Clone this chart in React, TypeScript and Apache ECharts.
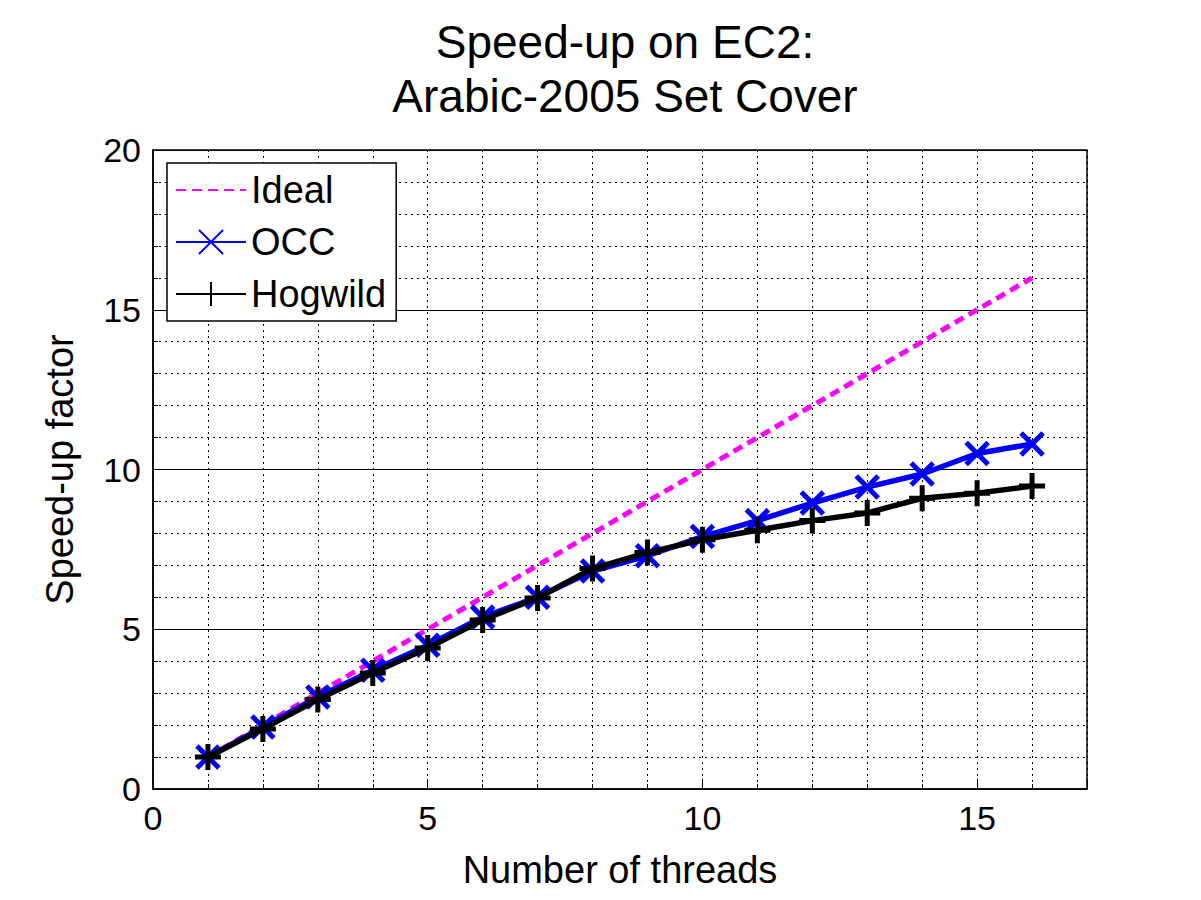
import { useEffect, useRef } from 'react';
import * as echarts from 'echarts';

const threads = [1, 2, 3, 4, 5, 6, 7, 8, 9, 10, 11, 12, 13, 14, 15, 16];
const ideal = [1, 2, 3, 4, 5, 6, 7, 8, 9, 10, 11, 12, 13, 14, 15, 16];
const occ = [1.0, 1.94, 2.88, 3.72, 4.5, 5.38, 6.0, 6.82, 7.3, 7.9, 8.4, 8.95, 9.45, 9.86, 10.5, 10.8];
const hogwild = [1.0, 1.88, 2.8, 3.63, 4.41, 5.29, 5.98, 6.9, 7.4, 7.8, 8.1, 8.4, 8.64, 9.1, 9.26, 9.48];

const FONT = 'Liberation Sans, Arial, sans-serif';
const X_SYM = 'path://M0,0L10,10M10,0L0,10';
const PLUS_SYM = 'path://M5,0L5,10M0,5L10,5';

const pairs = (ys: number[]) => threads.map((t, i) => [t, ys[i]]);

export default function App() {
  const ref = useRef<HTMLDivElement | null>(null);

  useEffect(() => {
    if (!ref.current) return;
    const chart = echarts.init(ref.current, undefined, { renderer: 'svg' });
    chart.setOption({
      animation: false,
      backgroundColor: '#fff',
      title: {
        text: 'Speed-up on EC2:\nArabic-2005 Set Cover',
        left: 620,
        textAlign: 'center',
        top: 10,
        textStyle: { fontFamily: FONT, fontSize: 46, fontWeight: 'normal', color: '#000', lineHeight: 54 },
      },
      grid: { left: 153, right: 114, top: 150, bottom: 111, show: true, borderColor: '#000', borderWidth: 1.5 },
      legend: {
        orient: 'vertical',
        left: 167,
        top: 163,
        padding: [8, 10, 8, 8],
        itemGap: 14,
        itemWidth: 70,
        itemHeight: 30,
        backgroundColor: '#fff',
        borderColor: '#000',
        borderWidth: 1.5,
        textStyle: { fontFamily: FONT, fontSize: 38, color: '#000' },
        data: [{ name: 'Ideal', itemStyle: { opacity: 0 } }, 'OCC', 'Hogwild'],
      },
      xAxis: {
        type: 'value',
        min: 0,
        max: 17,
        interval: 5,
        name: 'Number of threads',
        nameLocation: 'middle',
        nameGap: 62,
        nameTextStyle: { fontFamily: FONT, fontSize: 38, color: '#000' },
        axisLine: { lineStyle: { color: '#000', width: 1.5 } },
        axisTick: { inside: true, length: 10, lineStyle: { color: '#000' } },
        minorTick: { show: true, splitNumber: 5, length: 5, lineStyle: { color: '#000' } },
        axisLabel: { fontFamily: FONT, fontSize: 34, color: '#000', margin: 12, showMaxLabel: false },
        splitLine: { show: true, lineStyle: { color: '#000', type: [2, 4], width: 1 } },
        minorSplitLine: { show: true, lineStyle: { color: '#000', type: [2, 4], width: 1 } },
      },
      yAxis: {
        type: 'value',
        min: 0,
        max: 20,
        interval: 5,
        name: 'Speed-up factor',
        nameLocation: 'middle',
        nameGap: 74,
        nameTextStyle: { fontFamily: FONT, fontSize: 38, color: '#000' },
        axisLine: { lineStyle: { color: '#000', width: 1.5 } },
        axisTick: { inside: true, length: 10, lineStyle: { color: '#000' } },
        minorTick: { show: true, splitNumber: 5, length: 5, lineStyle: { color: '#000' } },
        axisLabel: { fontFamily: FONT, fontSize: 34, color: '#000', margin: 12 },
        splitLine: { show: true, lineStyle: { color: '#000', width: 1 } },
        minorSplitLine: { show: true, lineStyle: { color: '#000', type: [2, 4], width: 1 } },
      },
      series: [
        {
          name: 'Ideal',
          type: 'line',
          data: pairs(ideal),
          symbol: 'none',
          lineStyle: { color: '#ff00ff', width: 5, type: [10, 6] },
          itemStyle: { color: '#ff00ff' },
        },
        {
          name: 'OCC',
          type: 'line',
          data: pairs(occ),
          symbol: X_SYM,
          symbolSize: 22,
          lineStyle: { color: '#0000ff', width: 5.5 },
          itemStyle: { color: '#0000ff', borderColor: '#0000ff', borderWidth: 5 },
          z: 3,
        },
        {
          name: 'Hogwild',
          type: 'line',
          data: pairs(hogwild),
          symbol: PLUS_SYM,
          symbolSize: 26,
          lineStyle: { color: '#000', width: 5.5 },
          itemStyle: { color: '#000', borderColor: '#000', borderWidth: 5 },
          z: 4,
        },
      ],
    });
    return () => chart.dispose();
  }, []);

  return <div ref={ref} style={{ position: 'absolute', left: 0, top: 0, width: 1201, height: 900 }} />;
}
